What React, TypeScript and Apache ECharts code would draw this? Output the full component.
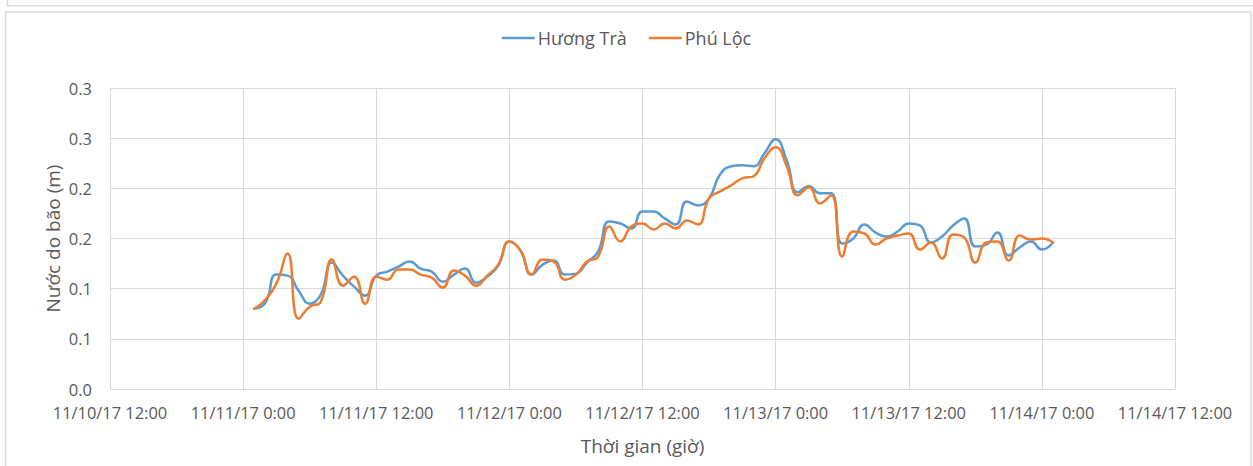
import React, { useEffect, useRef } from "react";
import * as echarts from "echarts";

// Hourly storm surge (m), 11/11/17 1:00 .. 11/14/17 1:00
const huongTra = [
  0.080, 0.086, 0.114, 0.113, 0.098, 0.085, 0.094, 0.126, 0.113, 0.102, 0.093, 0.113,
  0.117, 0.122, 0.127, 0.120, 0.117, 0.107, 0.114, 0.120, 0.106, 0.112, 0.123, 0.147,
  0.138, 0.114, 0.124, 0.128, 0.114, 0.115, 0.126, 0.137, 0.167, 0.165, 0.160, 0.177,
  0.177, 0.170, 0.164, 0.187, 0.183, 0.190, 0.214, 0.222, 0.223, 0.222, 0.235, 0.249,
  0.228, 0.196, 0.202, 0.195, 0.195, 0.145, 0.150, 0.164, 0.156, 0.152, 0.157, 0.165,
  0.163, 0.146, 0.152, 0.163, 0.170, 0.142, 0.144, 0.156, 0.133, 0.141, 0.147, 0.139,
  0.146,
];
const phuLoc = [
  0.080, 0.089, 0.105, 0.135, 0.070, 0.082, 0.087, 0.129, 0.103, 0.112, 0.085, 0.112,
  0.109, 0.119, 0.119, 0.114, 0.111, 0.101, 0.118, 0.113, 0.103, 0.113, 0.124, 0.147,
  0.138, 0.114, 0.129, 0.127, 0.109, 0.114, 0.127, 0.132, 0.162, 0.147, 0.162, 0.165,
  0.159, 0.165, 0.160, 0.168, 0.164, 0.190, 0.197, 0.203, 0.210, 0.212, 0.230, 0.241,
  0.222, 0.193, 0.201, 0.185, 0.193, 0.132, 0.157, 0.155, 0.144, 0.150, 0.153, 0.155,
  0.139, 0.146, 0.130, 0.154, 0.151, 0.126, 0.146, 0.147, 0.128, 0.153, 0.149, 0.150,
  0.146,
];
const seriesNames = ["Hương Trà", "Phú Lộc"];
// x ticks: hours relative to 11/11/17 0:00, every 12 h from -12 to 84
const xTickLabels = [
  "11/10/17 12:00", "11/11/17 0:00", "11/11/17 12:00", "11/12/17 0:00", "11/12/17 12:00",
  "11/13/17 0:00", "11/13/17 12:00", "11/14/17 0:00", "11/14/17 12:00",
];
const yTickLabels = ["0.0", "0.1", "0.1", "0.2", "0.2", "0.3", "0.3"];
const firstHour = 1; // first record at 11/11/17 1:00

const FONT = "'Open Sans', sans-serif";
const TXT = "#595959";
const GRID = "#d9d9d9";

export default function App() {
  const ref = useRef<HTMLDivElement>(null);
  useEffect(() => {
    document.body.style.margin = "0";
    const chart = echarts.init(ref.current!, undefined, { renderer: "svg" });
    const toPairs = (arr: number[]) => arr.map((v, i) => [firstHour + i, v]);
    chart.setOption({
      animation: false,
      backgroundColor: "#fff",
      textStyle: { fontFamily: FONT },
      graphic: [
        { type: "rect", shape: { x: 7.5, y: -20, width: 1270, height: 25.7 }, style: { fill: "none", stroke: GRID, lineWidth: 1.5 }, silent: true },
        { type: "rect", shape: { x: 5.5, y: 12, width: 1245.5, height: 470 }, style: { fill: "none", stroke: GRID, lineWidth: 1.5 }, silent: true },
      ],
      legend: {
        top: 24,
        left: "center",
        icon: "rect",
        itemWidth: 33,
        itemHeight: 2.5,
        itemGap: 22,
        textStyle: { fontFamily: FONT, fontSize: 18, color: TXT, padding: [0, 0, 0, -2] },
        data: seriesNames,
      },
      grid: { left: 110, right: 78, top: 88, bottom: 77, containLabel: false },
      xAxis: {
        type: "value",
        min: -12,
        max: 84,
        interval: 12,
        name: "Thời gian (giờ)",
        nameLocation: "middle",
        nameGap: 47,
        nameTextStyle: { fontFamily: FONT, fontSize: 19, color: TXT },
        axisLine: { show: true, lineStyle: { color: GRID, width: 1 } },
        axisTick: { show: false },
        axisLabel: {
          fontFamily: FONT,
          fontSize: 16.4,
          color: TXT,
          margin: 15,
          formatter: (v: number) => xTickLabels[Math.round((v + 12) / 12)] ?? "",
        },
        splitLine: { show: true, lineStyle: { color: GRID, width: 1 } },
      },
      yAxis: {
        type: "value",
        min: 0,
        max: 0.3,
        interval: 0.05,
        name: "Nước do bão (m)",
        nameLocation: "middle",
        nameGap: 48,
        nameMoveOverlap: false,
        nameRotate: 90,
        nameTextStyle: { fontFamily: FONT, fontSize: 19, color: TXT },
        axisLine: { show: false },
        axisTick: { show: false },
        axisLabel: {
          fontFamily: FONT,
          fontSize: 16.5,
          color: TXT,
          margin: 18,
          formatter: (v: number) => yTickLabels[Math.round(v / 0.05)] ?? "",
        },
        splitLine: { show: true, lineStyle: { color: GRID, width: 1 } },
      },
      series: [
        {
          name: seriesNames[0],
          type: "line",
          data: toPairs(huongTra),
          smooth: 0.5,
          symbol: "none",
          lineStyle: { color: "#5b9bd5", width: 2.5, cap: "round" },
          itemStyle: { color: "#5b9bd5" },
        },
        {
          name: seriesNames[1],
          type: "line",
          data: toPairs(phuLoc),
          smooth: 0.5,
          symbol: "none",
          lineStyle: { color: "#ed7d31", width: 2.5, cap: "round" },
          itemStyle: { color: "#ed7d31" },
        },
      ],
    });
    return () => chart.dispose();
  }, []);
  return <div ref={ref} style={{ width: 1253, height: 466 }} />;
}
